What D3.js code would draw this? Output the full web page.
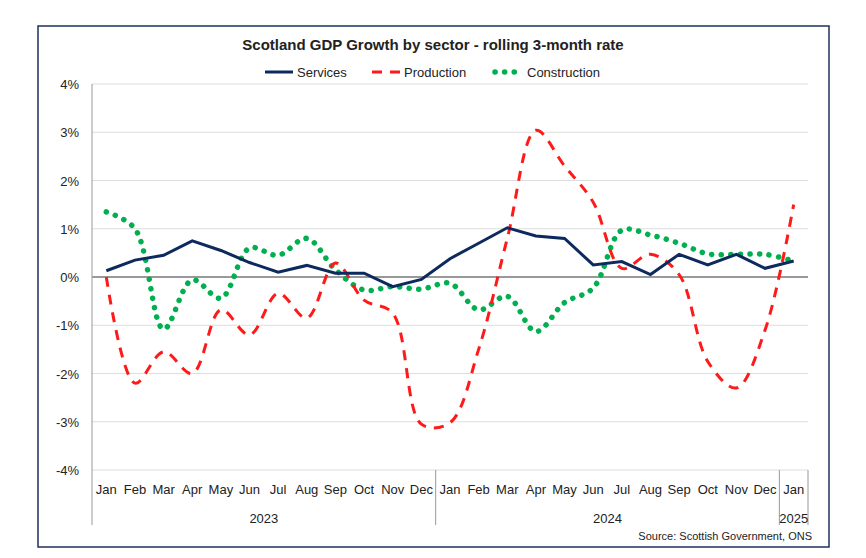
<!DOCTYPE html>
<html><head><meta charset="utf-8">
<script src="https://cdn.jsdelivr.net/npm/d3@7"></script>
<style>body{margin:0;background:#fff;font-family:Arial,"Liberation Sans",sans-serif;}</style>
</head><body>
<script>
let width = 866, height = 558;

let months = ["Jan","Feb","Mar","Apr","May","Jun","Jul","Aug","Sep","Oct","Nov","Dec",
              "Jan","Feb","Mar","Apr","May","Jun","Jul","Aug","Sep","Oct","Nov","Dec","Jan"];
let years = [{label:"2023", from:0, to:11}, {label:"2024", from:12, to:23}, {label:"2025", from:24, to:24}];
let services = [0.13,0.35,0.45,0.75,0.55,0.3,0.1,0.24,0.08,0.08,-0.2,-0.05,
                0.38,0.7,1.02,0.85,0.8,0.25,0.32,0.05,0.47,0.25,0.47,0.18,0.33];
let production = [0.0,-2.2,-1.55,-2.0,-0.68,-1.2,-0.34,-0.85,0.29,-0.48,-0.75,-3.05,
                  -3.02,-1.5,0.8,3.04,2.3,1.55,0.18,0.47,0.05,-1.75,-2.3,-1.1,1.5];
let construction = [1.35,1.0,-1.08,-0.06,-0.44,0.6,0.45,0.8,0.15,-0.27,-0.2,-0.25,
                    -0.13,-0.68,-0.4,-1.13,-0.53,-0.23,0.97,0.87,0.7,0.48,0.47,0.47,0.33];
let yTicks = [-4,-3,-2,-1,0,1,2,3,4];

let svg = d3.select("body").append("svg").attr("width", width).attr("height", height);

svg.append("rect").attr("x", 38).attr("y", 26).attr("width", 791).attr("height", 521)
  .attr("fill", "none").attr("stroke", "#1f2f5f").attr("stroke-width", 1.5);

let plotLeft = 92, plotRight = 808, plotTop = 84, plotBottom = 470;
let step = (plotRight - plotLeft) / 25;
let x = i => plotLeft + step * (i + 0.5);
let y = d3.scaleLinear().domain([-4, 4]).range([plotBottom, plotTop]);

svg.selectAll(".grid").data(yTicks).enter().append("line")
  .attr("x1", plotLeft).attr("x2", plotRight).attr("y1", d => y(d)).attr("y2", d => y(d))
  .attr("stroke", d => d === 0 ? "#777" : "#ddd").attr("stroke-width", d => d === 0 ? 1.5 : 1);

svg.selectAll(".ylab").data(yTicks).enter().append("text")
  .attr("x", 79).attr("y", d => y(d) + 5).attr("text-anchor", "end")
  .attr("font-size", 13).attr("fill", "#222").text(d => d + "%");

svg.append("line").attr("x1", plotLeft).attr("x2", plotLeft).attr("y1", plotTop).attr("y2", 525)
  .attr("stroke", "#999");

svg.selectAll(".xlab").data(months).enter().append("text")
  .attr("x", (d, i) => x(i)).attr("y", 494).attr("text-anchor", "middle")
  .attr("font-size", 13).attr("fill", "#222").text(d => d);

svg.selectAll(".sep").data(years.slice(1)).enter().append("line")
  .attr("x1", d => plotLeft + step * d.from).attr("x2", d => plotLeft + step * d.from)
  .attr("y1", plotBottom).attr("y2", 525).attr("stroke", "#999");
svg.append("line").attr("x1", plotRight).attr("x2", plotRight).attr("y1", plotBottom).attr("y2", 525).attr("stroke", "#999");

svg.selectAll(".yr").data(years).enter().append("text")
  .attr("x", d => (x(d.from) + x(d.to)) / 2).attr("y", 523).attr("text-anchor", "middle")
  .attr("font-size", 13).attr("fill", "#222").text(d => d.label);

let series = [
  {name:"Services", values:services, color:"#0d2a5e", dash:null, width:3, curve:d3.curveLinear, cap:"butt"},
  {name:"Production", values:production, color:"#ff1a1a", dash:"10,8", width:3, curve:d3.curveCatmullRom, cap:"butt"},
  {name:"Construction", values:construction, color:"#00b050", dash:"0.1,9.5", width:5.5, curve:d3.curveCatmullRom, cap:"round"}
];

series.slice().reverse().forEach(s => {
  let line = d3.line().x((d, i) => x(i)).y(d => y(d)).curve(s.curve);
  svg.append("path").datum(s.values).attr("d", line).attr("fill", "none")
    .attr("stroke", s.color).attr("stroke-width", s.width)
    .attr("stroke-dasharray", s.dash).attr("stroke-linecap", s.cap);
});

svg.append("text").attr("x", 433).attr("y", 50).attr("text-anchor", "middle")
  .attr("font-size", 15).attr("font-weight", "bold").attr("fill", "#222")
  .text("Scotland GDP Growth by sector - rolling 3-month rate");

let legX = [265, 372, 495];
series.forEach((s, i) => {
  svg.append("line").attr("x1", legX[i]).attr("x2", legX[i] + 28).attr("y1", 72).attr("y2", 72)
    .attr("stroke", s.color).attr("stroke-width", s.width)
    .attr("stroke-dasharray", s.dash).attr("stroke-linecap", s.cap);
  svg.append("text").attr("x", legX[i] + 32).attr("y", 77).attr("font-size", 13)
    .attr("fill", "#222").text(s.name);
});

svg.append("text").attr("x", 812).attr("y", 540).attr("text-anchor", "end")
  .attr("font-size", 11).attr("fill", "#222").text("Source: Scottish Government, ONS");
</script>
</body></html>
